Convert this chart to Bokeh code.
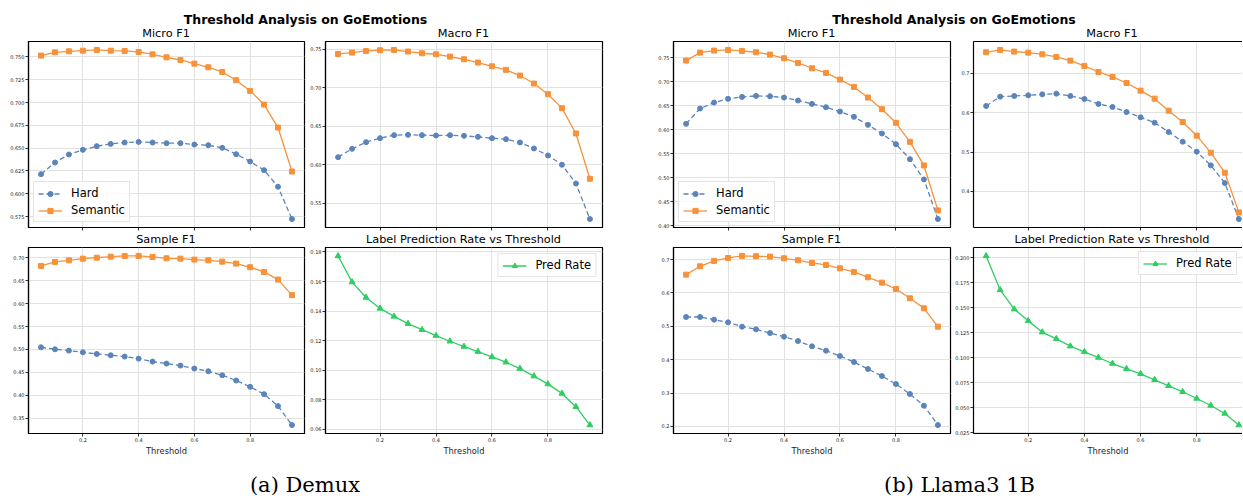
from bokeh.plotting import figure
from bokeh.models import (Range1d, FixedTicker, NumeralTickFormatter, CustomJSTickFormatter,
                          Legend, LegendItem, Div, LinearAxis)
from bokeh.layouts import column, row
from bokeh.embed import file_html
from bokeh.resources import INLINE

# ---------------- data ----------------
thresholds = [0.05, 0.10, 0.15, 0.20, 0.25, 0.30, 0.35, 0.40, 0.45, 0.50,
              0.55, 0.60, 0.65, 0.70, 0.75, 0.80, 0.85, 0.90, 0.95]

demux_micro_hard = [0.6215, 0.6343, 0.6431, 0.6482, 0.6522, 0.6547, 0.6562, 0.6569, 0.6562, 0.6555,
                    0.6555, 0.6540, 0.6533, 0.6504, 0.6434, 0.6354, 0.6259, 0.6077, 0.5723]
demux_micro_sem = [0.7515, 0.7551, 0.7562, 0.7569, 0.7577, 0.7569, 0.7566, 0.7555, 0.7529, 0.7496,
                   0.7467, 0.7427, 0.7387, 0.7336, 0.7245, 0.7128, 0.6978, 0.6726, 0.6244]
demux_macro_hard = [0.6097, 0.6205, 0.6292, 0.6344, 0.6383, 0.6387, 0.6383, 0.6378, 0.6383, 0.6374,
                    0.6361, 0.6344, 0.6331, 0.6288, 0.6210, 0.6119, 0.5998, 0.5755, 0.5292]
demux_macro_sem = [0.7439, 0.7457, 0.7478, 0.7487, 0.7491, 0.7470, 0.7448, 0.7435, 0.7405, 0.7370,
                   0.7327, 0.7279, 0.7232, 0.7158, 0.7054, 0.6916, 0.6734, 0.6405, 0.5816]
demux_sample_hard = [0.5047, 0.5004, 0.4975, 0.4938, 0.4902, 0.4873, 0.4844, 0.4800, 0.4735, 0.4691,
                     0.4648, 0.4583, 0.4524, 0.4437, 0.4321, 0.4183, 0.4023, 0.3762, 0.3348]
demux_sample_sem = [0.6826, 0.6913, 0.6949, 0.6985, 0.7007, 0.7029, 0.7044, 0.7044, 0.7022, 0.6993,
                    0.6985, 0.6964, 0.6949, 0.6920, 0.6877, 0.6797, 0.6695, 0.6528, 0.6187]
demux_rate = [0.1773, 0.1596, 0.1492, 0.1418, 0.1364, 0.1315, 0.1274, 0.1234, 0.1196, 0.1160,
              0.1126, 0.1090, 0.1054, 0.1011, 0.0960, 0.0906, 0.0843, 0.0753, 0.0629]

llama_micro_hard = [0.6121, 0.6440, 0.6564, 0.6641, 0.6682, 0.6703, 0.6696, 0.6668, 0.6606, 0.6536,
                    0.6467, 0.6377, 0.6266, 0.6100, 0.5920, 0.5698, 0.5386, 0.4964, 0.4139]
llama_micro_sem = [0.7438, 0.7604, 0.7646, 0.7659, 0.7639, 0.7611, 0.7562, 0.7486, 0.7389, 0.7278,
                   0.7181, 0.7042, 0.6890, 0.6668, 0.6426, 0.6142, 0.5747, 0.5255, 0.4319]
llama_macro_hard = [0.6170, 0.6407, 0.6424, 0.6441, 0.6466, 0.6483, 0.6424, 0.6348, 0.6221, 0.6144,
                    0.6017, 0.5882, 0.5746, 0.5509, 0.5263, 0.5009, 0.4662, 0.4213, 0.3298]
llama_macro_sem = [0.7534, 0.7593, 0.7551, 0.7525, 0.7483, 0.7415, 0.7322, 0.7186, 0.7034, 0.6907,
                   0.6754, 0.6559, 0.6356, 0.6051, 0.5763, 0.5416, 0.4983, 0.4475, 0.3467]
llama_sample_hard = [0.528, 0.528, 0.520, 0.512, 0.499, 0.491, 0.480, 0.469, 0.456, 0.440,
                     0.427, 0.411, 0.393, 0.372, 0.351, 0.327, 0.297, 0.262, 0.204]
llama_sample_sem = [0.655, 0.680, 0.696, 0.705, 0.711, 0.710, 0.709, 0.704, 0.698, 0.690,
                    0.684, 0.674, 0.663, 0.647, 0.631, 0.612, 0.584, 0.554, 0.499]
llama_rate = [0.2020, 0.1680, 0.1487, 0.1370, 0.1257, 0.1190, 0.1117, 0.1060, 0.1003, 0.0943,
              0.0890, 0.0840, 0.0780, 0.0720, 0.0660, 0.0593, 0.0523, 0.0443, 0.0327]

x_ticks = [0.2, 0.4, 0.6, 0.8]
demux_micro_ticks = [0.575, 0.600, 0.625, 0.650, 0.675, 0.700, 0.725, 0.750]
demux_macro_ticks = [0.55, 0.60, 0.65, 0.70, 0.75]
demux_sample_ticks = [0.35, 0.40, 0.45, 0.50, 0.55, 0.60, 0.65, 0.70]
demux_rate_ticks = [0.06, 0.08, 0.10, 0.12, 0.14, 0.16, 0.18]
llama_micro_ticks = [0.40, 0.45, 0.50, 0.55, 0.60, 0.65, 0.70, 0.75]
llama_macro_ticks = [0.4, 0.5, 0.6, 0.7]
llama_sample_ticks = [0.2, 0.3, 0.4, 0.5, 0.6, 0.7]
llama_rate_ticks = [0.025, 0.050, 0.075, 0.100, 0.125, 0.150, 0.175, 0.200]

suptitle = "Threshold Analysis on GoEmotions"
panel_titles = ["Micro F1", "Macro F1", "Sample F1", "Label Prediction Rate vs Threshold"]
captions = ["(a) Demux", "(b) Llama3 1B"]

# ---------------- style ----------------
HARD = "#5b84bb"
SEM = "#f7923a"
RATE = "#2fce63"
FONT = "DejaVu Sans"
CROP = 269.0 / 278.0   # right-hand panels are cut off by the page edge in the original


def make_panel(series, yticks, yfmt, width, height, bl, br, bt, bb,
               bottom_row, legend_loc=None, crop=1.0, legend_margin=5):
    ys = [v for s in series for v in s[1]]
    lo, hi = min(ys), max(ys)
    pad = 0.05 * (hi - lo)
    xlo, xhi = min(thresholds), max(thresholds)
    xpad = 0.05 * (xhi - xlo)
    x0 = xlo - xpad
    x1 = x0 + (xhi + xpad - x0) * crop
    p = figure(width=width, height=height, output_backend="svg", toolbar_location=None, title=None,
               x_range=Range1d(x0, x1), y_range=Range1d(lo - pad, hi + pad),
               min_border_left=bl, min_border_right=br, min_border_top=bt, min_border_bottom=bb)
    p.background_fill_color = "white"
    p.border_fill_color = None

    xa = p.below[0]
    ya = p.left[0]
    xa.ticker = FixedTicker(ticks=x_ticks)
    ya.ticker = FixedTicker(ticks=yticks)
    ya.formatter = NumeralTickFormatter(format=yfmt)
    for ax in (xa, ya):
        ax.axis_line_color = "black"
        ax.axis_line_width = 1.2
        ax.major_tick_out = 3
        ax.major_tick_in = 0
        ax.major_tick_line_color = "black"
        ax.major_tick_line_width = 0.8
        ax.minor_tick_line_color = None
        ax.major_label_text_font = FONT
        ax.major_label_text_font_size = "5px"
        ax.major_label_text_color = "#222222"
        ax.major_label_standoff = 1
    if bottom_row:
        xa.formatter = NumeralTickFormatter(format="0.0")
        xa.axis_label = "Threshold"
        xa.axis_label_text_font = FONT
        xa.axis_label_text_font_size = "8.3px"
        xa.axis_label_text_font_style = "normal"
        xa.axis_label_text_color = "#222222"
        xa.axis_label_standoff = 1
    else:
        xa.formatter = CustomJSTickFormatter(code="return ''")
        xa.major_label_standoff = 0

    if crop < 1.0:
        # frame continues past the page edge: draw only top, left and bottom edges
        p.outline_line_color = None
        top_ax = LinearAxis(ticker=FixedTicker(ticks=[]), formatter=CustomJSTickFormatter(code="return ''"),
                            axis_line_color="black", axis_line_width=1.2,
                            major_tick_line_color=None, minor_tick_line_color=None,
                            major_tick_out=0, major_tick_in=0, major_label_standoff=0)
        p.add_layout(top_ax, "above")
    else:
        p.outline_line_color = "black"
        p.outline_line_width = 1.2
        p.outline_line_alpha = 1.0

    p.grid.grid_line_color = "#e2e2e2"
    p.grid.grid_line_width = 1

    items = []
    for label, y, kind in series:
        if kind == "hard":
            ln = p.line(thresholds, y, line_color=HARD, line_width=1.3, line_dash="5 3")
            sc = p.scatter(thresholds, y, marker="circle", size=5, fill_color=HARD, line_color=HARD)
        elif kind == "sem":
            ln = p.line(thresholds, y, line_color=SEM, line_width=1.3)
            sc = p.scatter(thresholds, y, marker="square", size=5, fill_color=SEM, line_color=SEM)
        else:
            ln = p.line(thresholds, y, line_color=RATE, line_width=1.3)
            sc = p.scatter(thresholds, y, marker="triangle", size=6, fill_color=RATE, line_color=RATE)
        items.append(LegendItem(label=label, renderers=[ln, sc]))
    if legend_loc:
        lg = Legend(items=items, location=legend_loc)
        lg.label_text_font = FONT
        lg.label_text_font_size = "11.5px"
        lg.label_text_color = "black"
        lg.glyph_width = 24
        lg.glyph_height = 13
        lg.label_height = 13
        lg.label_standoff = 9
        lg.spacing = 3
        lg.padding = 4
        lg.margin = legend_margin
        lg.border_line_color = "#cccccc"
        lg.border_line_width = 1
        lg.background_fill_color = "white"
        lg.background_fill_alpha = 0.8
        p.add_layout(lg)
    return p


TOP_H, BOT_H = 194, 215
# group A
a_micro = make_panel([("Hard", demux_micro_hard, "hard"), ("Semantic", demux_micro_sem, "sem")],
                     demux_micro_ticks, "0.000", 306, TOP_H, 28, 2, 2, 6, False, "bottom_left")
a_macro = make_panel([("Hard", demux_macro_hard, "hard"), ("Semantic", demux_macro_sem, "sem")],
                     demux_macro_ticks, "0.00", 298, TOP_H, 19, 2, 2, 6, False)
a_sample = make_panel([("Hard", demux_sample_hard, "hard"), ("Semantic", demux_sample_sem, "sem")],
                      demux_sample_ticks, "0.00", 306, BOT_H, 28, 2, 2, 27, True)
a_rate = make_panel([("Pred Rate", demux_rate, "rate")],
                    demux_rate_ticks, "0.00", 298, BOT_H, 19, 2, 2, 27, True, "top_right", legend_margin=6)
# group B
b_micro = make_panel([("Hard", llama_micro_hard, "hard"), ("Semantic", llama_micro_sem, "sem")],
                     llama_micro_ticks, "0.00", 348, TOP_H, 69, 2, 2, 6, False, "bottom_left")
b_macro = make_panel([("Hard", llama_macro_hard, "hard"), ("Semantic", llama_macro_sem, "sem")],
                     llama_macro_ticks, "0.0", 290, TOP_H, 21, 0, 2, 6, False, crop=CROP)
b_sample = make_panel([("Hard", llama_sample_hard, "hard"), ("Semantic", llama_sample_sem, "sem")],
                      llama_sample_ticks, "0.0", 348, BOT_H, 69, 2, 2, 27, True)
b_rate = make_panel([("Pred Rate", llama_rate, "rate")],
                    llama_rate_ticks, "0.000", 290, BOT_H, 21, 0, 2, 27, True, (165, 158), crop=CROP)


def txt(text, left_center, top, size, weight="normal", font=FONT, w=600):
    return ('<div style="position:absolute;left:%.1fpx;top:%.1fpx;width:%dpx;text-align:center;'
            'white-space:nowrap;font-family:\'%s\';font-size:%s;font-weight:%s;color:black;line-height:1;">%s</div>'
            % (left_center - w / 2.0, top, w, font, size, weight, text))


def text_row(pieces, width, height):
    html = '<div style="position:relative;width:%dpx;height:%dpx;">%s</div>' % (width, height, "".join(pieces))
    return Div(text=html, width=width, height=height, styles={"overflow": "visible", "margin": "0", "padding": "0"})


header = text_row([
    txt(suptitle, 305.5, 14.4, "12.5px", "bold"),
    txt(suptitle, 954.0, 14.4, "12.5px", "bold"),
    txt(panel_titles[0], 166.0, 28.4, "11.3px"),
    txt(panel_titles[1], 463.5, 28.4, "11.3px"),
    txt(panel_titles[0], 811.5, 28.4, "11.3px"),
    txt(panel_titles[1], 1112.0, 28.4, "11.3px"),
], 1242, 39)
mid = text_row([
    txt(panel_titles[2], 166.0, 1.4, "11.3px"),
    txt(panel_titles[3], 463.5, 1.4, "11.3px"),
    txt(panel_titles[2], 811.5, 1.4, "11.3px"),
    txt(panel_titles[3], 1112.0, 1.4, "11.3px"),
], 1242, 12)
footer = text_row([
    txt(captions[0], 305.0, 15.3, "21px", font="DejaVu Serif"),
    txt(captions[1], 959.5, 15.3, "21px", font="DejaVu Serif"),
], 1242, 36)

top_row = row(a_micro, a_macro, b_micro, b_macro, spacing=0)
bot_row = row(a_sample, a_rate, b_sample, b_rate, spacing=0)
layout = column(header, top_row, mid, bot_row, footer, spacing=0)

open("out.html", "w").write(file_html(layout, INLINE))
